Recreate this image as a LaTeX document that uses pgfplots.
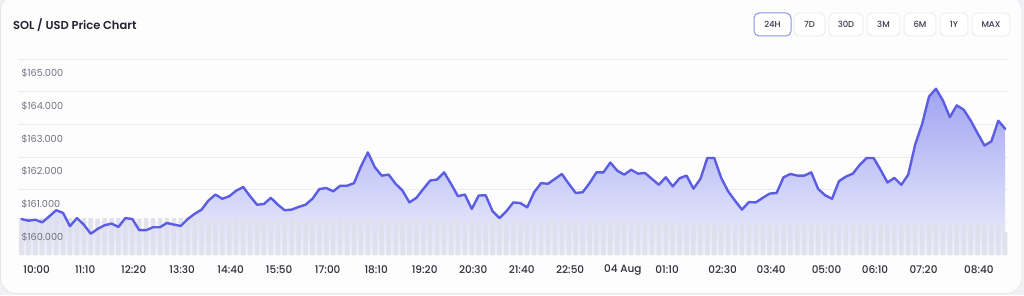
\documentclass[border=0pt]{standalone}
\usepackage{pgfplots}
\pgfplotsset{compat=1.18}
\usepackage{pgfplotstable}
\usepackage{fontspec}
\setmainfont{Poppins}
\newfontfamily\pmed{Poppins Medium}
\newfontfamily\psemi{Poppins SemiBold}

\definecolor{linec}{HTML}{5B5EE3}
\definecolor{areatop}{HTML}{A0A4F1}
\definecolor{areabot}{HTML}{EFF0FD}
\definecolor{barc}{HTML}{DFE0EA}
\definecolor{gridc}{HTML}{EBEBF1}
\definecolor{ylab}{HTML}{72727F}
\definecolor{xlab}{HTML}{2E2E3A}
\definecolor{titlec}{HTML}{23232F}
\definecolor{cardbg}{HTML}{FDFDFE}
\definecolor{pagebg}{HTML}{F1F1F4}
\definecolor{cardborder}{HTML}{E6E6EC}
\definecolor{btnborder}{HTML}{EAEAEF}
\definecolor{btnactive}{HTML}{8E91E6}
\definecolor{btntext}{HTML}{3A3A48}

% time in minutes from 00:00 on 3 Aug, price in USD
\pgfplotstableread{
t p
578 160.10
588 160.05
598 160.08
608 160.00
618 160.18
628 160.37
638 160.29
648 159.88
658 160.13
668 159.93
678 159.65
688 159.80
698 159.91
708 159.96
718 159.86
728 160.13
738 160.10
748 159.76
758 159.76
768 159.85
778 159.85
788 159.98
798 159.93
808 159.89
818 160.10
828 160.26
838 160.39
848 160.67
858 160.85
868 160.72
878 160.80
888 160.97
898 161.08
908 160.80
918 160.54
928 160.56
938 160.75
948 160.54
958 160.37
968 160.39
978 160.47
988 160.54
998 160.72
1008 161.02
1018 161.05
1028 160.95
1038 161.12
1048 161.12
1058 161.20
1068 161.71
1078 162.14
1088 161.69
1098 161.43
1108 161.46
1118 161.18
1128 160.97
1138 160.61
1148 160.75
1158 161.02
1168 161.28
1178 161.31
1188 161.53
1198 161.18
1208 160.80
1218 160.85
1228 160.41
1238 160.82
1248 160.83
1258 160.34
1268 160.13
1278 160.34
1288 160.61
1298 160.59
1308 160.46
1318 160.92
1328 161.20
1338 161.18
1348 161.33
1358 161.48
1368 161.18
1378 160.90
1388 160.92
1398 161.20
1408 161.53
1418 161.53
1428 161.83
1438 161.58
1448 161.46
1458 161.61
1468 161.49
1478 161.51
1488 161.33
1498 161.15
1508 161.38
1518 161.10
1528 161.35
1538 161.43
1548 161.03
1558 161.33
1568 161.97
1578 161.97
1588 161.36
1598 160.95
1608 160.66
1618 160.39
1628 160.62
1638 160.61
1648 160.75
1658 160.88
1668 160.90
1678 161.38
1688 161.48
1698 161.43
1708 161.43
1718 161.53
1728 161.02
1738 160.83
1748 160.72
1758 161.26
1768 161.40
1778 161.49
1788 161.76
1798 161.97
1808 161.97
1818 161.61
1828 161.22
1838 161.36
1848 161.15
1858 161.46
1868 162.38
1878 163.01
1888 163.85
1898 164.09
1908 163.73
1918 163.22
1928 163.58
1938 163.45
1948 163.12
1958 162.73
1968 162.35
1978 162.48
1988 163.11
1998 162.86
}\pricedata

% volume (arbitrary units)
\pgfplotstableread{
t v
578 37
588 37
598 36.5
608 37
618 37
628 37
638 36.5
648 37
658 37
668 37
678 37
688 36.5
698 37
708 37
718 37
728 37
738 37
748 36.5
758 37
768 37
778 37
788 37
798 37
808 37
818 37
828 37
838 36.5
848 37
858 37
868 37
878 37
888 37
898 37
908 37
918 37
928 37
938 37
948 37
958 37
968 37
978 37
988 37
998 37
1008 37
1018 37
1028 37
1038 37
1048 37
1058 37
1068 37
1078 37
1088 37
1098 37
1108 37
1118 36.5
1128 37
1138 37
1148 37
1158 36.5
1168 37
1178 36.5
1188 36
1198 36
1208 36
1218 35.5
1228 35.5
1238 35.5
1248 35.5
1258 35.5
1268 36
1278 35.5
1288 35.5
1298 35.5
1308 35.5
1318 35.5
1328 35.5
1338 35.5
1348 35.5
1358 35.5
1368 35.5
1378 35.5
1388 35.5
1398 35.5
1408 35.5
1418 35.5
1428 35
1438 35
1448 35
1458 35
1468 35
1478 35
1488 34.5
1498 34
1508 33.5
1518 33
1528 32.5
1538 32
1548 32
1558 32
1568 32
1578 32
1588 31.5
1598 31.5
1608 31.5
1618 31.5
1628 31.5
1638 31.5
1648 31.5
1658 31.5
1668 31.5
1678 31.5
1688 31
1698 31
1708 31
1718 31
1728 31
1738 31
1748 31
1758 31
1768 31
1778 31
1788 31
1798 31
1808 31
1818 31
1828 31
1838 31
1848 31
1858 31
1868 31
1878 31
1888 31
1898 31
1908 31
1918 31
1928 31
1938 31
1948 31
1958 31
1968 31
1978 31
1988 31
1998 23
}\voldata

\pgfplotsset{
  chartax/.style={
    at={(18pt,40pt)}, anchor=south west,
    scale only axis, width=990pt, height=196pt,
    xmin=573, xmax=2002,
    axis line style={draw=none},
    tick style={draw=none},
    major tick length=0pt,
    clip=true,
  }
}

\begin{document}
\begin{tikzpicture}
\useasboundingbox (0,0) rectangle (1024pt,295pt);
\fill[pagebg] (0,0) rectangle (1024pt,295pt);
\filldraw[fill=cardbg, draw=cardborder, line width=0.8pt, rounded corners=16pt]
  (0.5pt,1.5pt) rectangle (1022pt,300pt);

% title
\node[anchor=west, inner sep=0pt, text=titlec, font=\psemi\fontsize{11.5}{13}\selectfont]
  at (13pt,270pt) {SOL / USD Price Chart};

% range buttons
\foreach \xa/\xb/\lab/\act in {754/791/24H/1, 794/825/7D/0, 829/863/30D/0, 867/900/3M/0, 904/936/6M/0, 940/968/1Y/0, 972/1010/MAX/0}{
  \ifnum\act=1
    \draw[btnactive, line width=1pt, fill=white, rounded corners=5pt] (\xa pt,259pt) rectangle (\xb pt,282pt);
  \else
    \draw[btnborder, line width=0.8pt, fill=white, rounded corners=5pt] (\xa pt,259pt) rectangle (\xb pt,282pt);
  \fi
  \node[text=btntext, font=\pmed\fontsize{8.5}{10}\selectfont, inner sep=0pt]
    at ({(\xa+\xb)/2*1pt},270.5pt) {\lab};
}

% axis A: grid and price area
\begin{axis}[chartax,
  ymin=159, ymax=165,
  ytick={160,161,162,163,164,165}, yticklabels={,,,,,},
  xtick=\empty,
  ymajorgrids, grid style={gridc, line width=0.8pt},
]
\addplot[draw=none, top color=areatop, bottom color=areabot]
  table[x=t, y=p]{\pricedata} -- (axis cs:1998,159) -- (axis cs:578,159) -- cycle;
\end{axis}

% axis B: volume bars
\begin{axis}[chartax, hide axis, ymin=0, ymax=196]
\addplot[ybar, bar width=4.5pt, bar shift=0pt, fill=barc, draw=none, fill opacity=0.9]
  table[x=t, y=v]{\voldata};
\end{axis}

% axis C: price line and labels
\begin{axis}[chartax,
  ymin=159, ymax=165,
  ytick={160,161,162,163,164,165},
  yticklabels={\$160.000,\$161.000,\$162.000,\$163.000,\$164.000,\$165.000},
  yticklabel style={anchor=west, yshift=-14.5pt, text=ylab, font=\fontsize{9.7}{11}\selectfont},
  xtick={600,670,740,810,880,950,1020,1090,1160,1230,1300,1370,1446,1510,1590,1660,1740,1810,1880,1960},
  xticklabels={10:00,11:10,12:20,13:30,14:40,15:50,17:00,18:10,19:20,20:30,21:40,22:50,04 Aug,01:10,02:30,03:40,05:00,06:10,07:20,08:40},
  xticklabel style={anchor=center, yshift=-15pt, text=xlab, font=\pmed\fontsize{10.5}{12}\selectfont},
]
\addplot[linec, line width=2.4pt, line join=round, line cap=round]
  table[x=t, y=p]{\pricedata};
\end{axis}
\end{tikzpicture}
\end{document}
